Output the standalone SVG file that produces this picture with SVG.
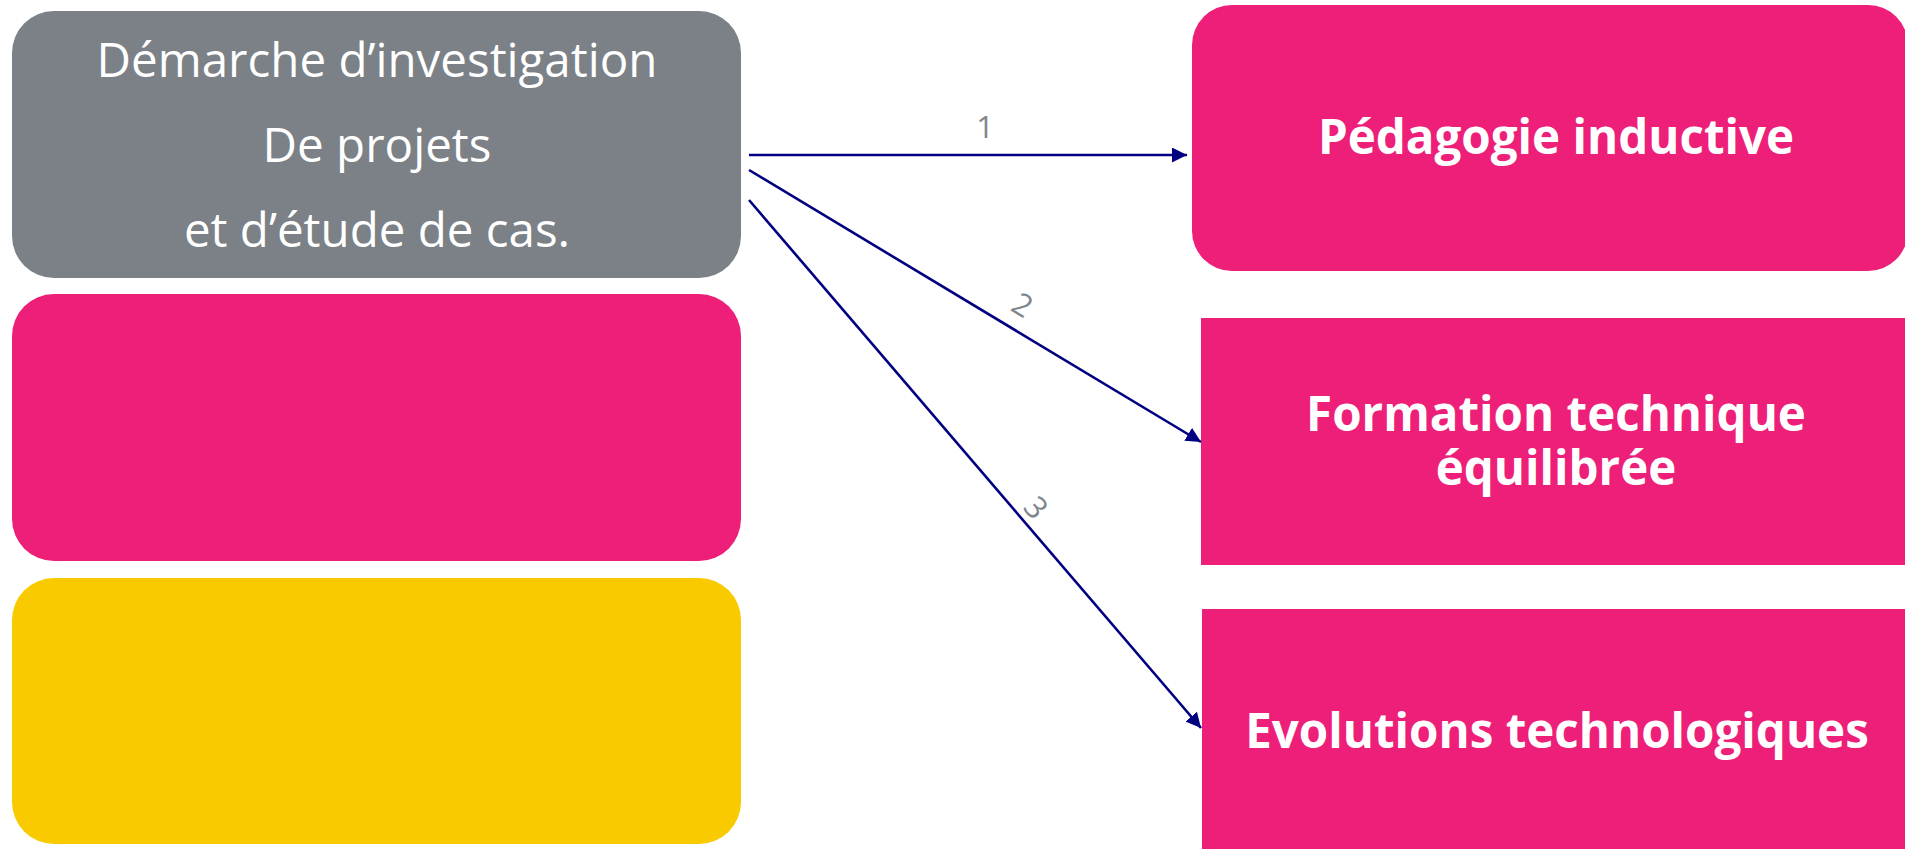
<svg xmlns="http://www.w3.org/2000/svg" width="1905" height="849" viewBox="0 0 1905 849">
<style>
.gray{fill:#7b8187}
.pink{fill:#ed1f78}
.yellow{fill:#f9ca00}
.ltxt{font-family:"Open Sans","Liberation Sans",sans-serif;font-weight:400;font-size:47.5px;fill:#ffffff;text-anchor:middle}
.btxt{font-family:"Open Sans","Liberation Sans",sans-serif;font-weight:700;font-size:47.5px;fill:#ffffff;text-anchor:middle}
.conn{stroke:#000080;stroke-width:2.6;fill:none;marker-end:url(#arr)}
.clab{font-family:"Open Sans","Liberation Sans",sans-serif;font-weight:400;font-size:31px;fill:#80868c;text-anchor:middle;dominant-baseline:central}
</style>
<defs>
<marker id="arr" markerUnits="userSpaceOnUse" markerWidth="16" markerHeight="15" refX="15" refY="7.5" orient="auto">
<path d="M0,0 L15,7.5 L0,15 z" fill="#000080"/>
</marker>
</defs>
<rect width="1905" height="849" fill="#ffffff"/>
<g id="node-demarche">
<rect class="gray" x="12" y="11" width="729" height="267" rx="42" ry="42"/>
<text class="ltxt" x="377" y="77">Démarche d’investigation</text>
<text class="ltxt" x="377" y="162">De projets</text>
<text class="ltxt" x="377" y="247">et d’étude de cas.</text>
</g>
<g id="node-pink-left">
<rect class="pink" x="12" y="294" width="729" height="267" rx="42" ry="42"/>
</g>
<g id="node-yellow-left">
<rect class="yellow" x="12" y="578" width="729" height="266" rx="42" ry="42"/>
</g>
<g id="node-pedagogie">
<rect class="pink" x="1192" y="5" width="716" height="266" rx="40" ry="40"/>
<text class="btxt" x="1556" y="154">Pédagogie inductive</text>
</g>
<g id="node-formation">
<rect class="pink" x="1201" y="318" width="710" height="247"/>
<text class="btxt" x="1556" y="431"><tspan x="1556" y="431">Formation technique</tspan><tspan x="1556" y="485">équilibrée</tspan></text>
</g>
<g id="node-evolutions">
<rect class="pink" x="1202" y="609" width="710" height="245"/>
<text class="btxt" x="1557" y="748">Evolutions technologiques</text>
</g>
<g id="connectors">
<line class="conn" x1="749" y1="155" x2="1187" y2="155"/>
<line class="conn" x1="749" y1="170" x2="1201" y2="442"/>
<line class="conn" x1="749" y1="200" x2="1201" y2="728"/>
<text class="clab" x="985" y="126">1</text>
<text class="clab" x="1023" y="304" transform="rotate(31 1023 304)">2</text>
<text class="clab" x="1037" y="507" transform="rotate(49.4 1037 507)">3</text>
</g>
</svg>
